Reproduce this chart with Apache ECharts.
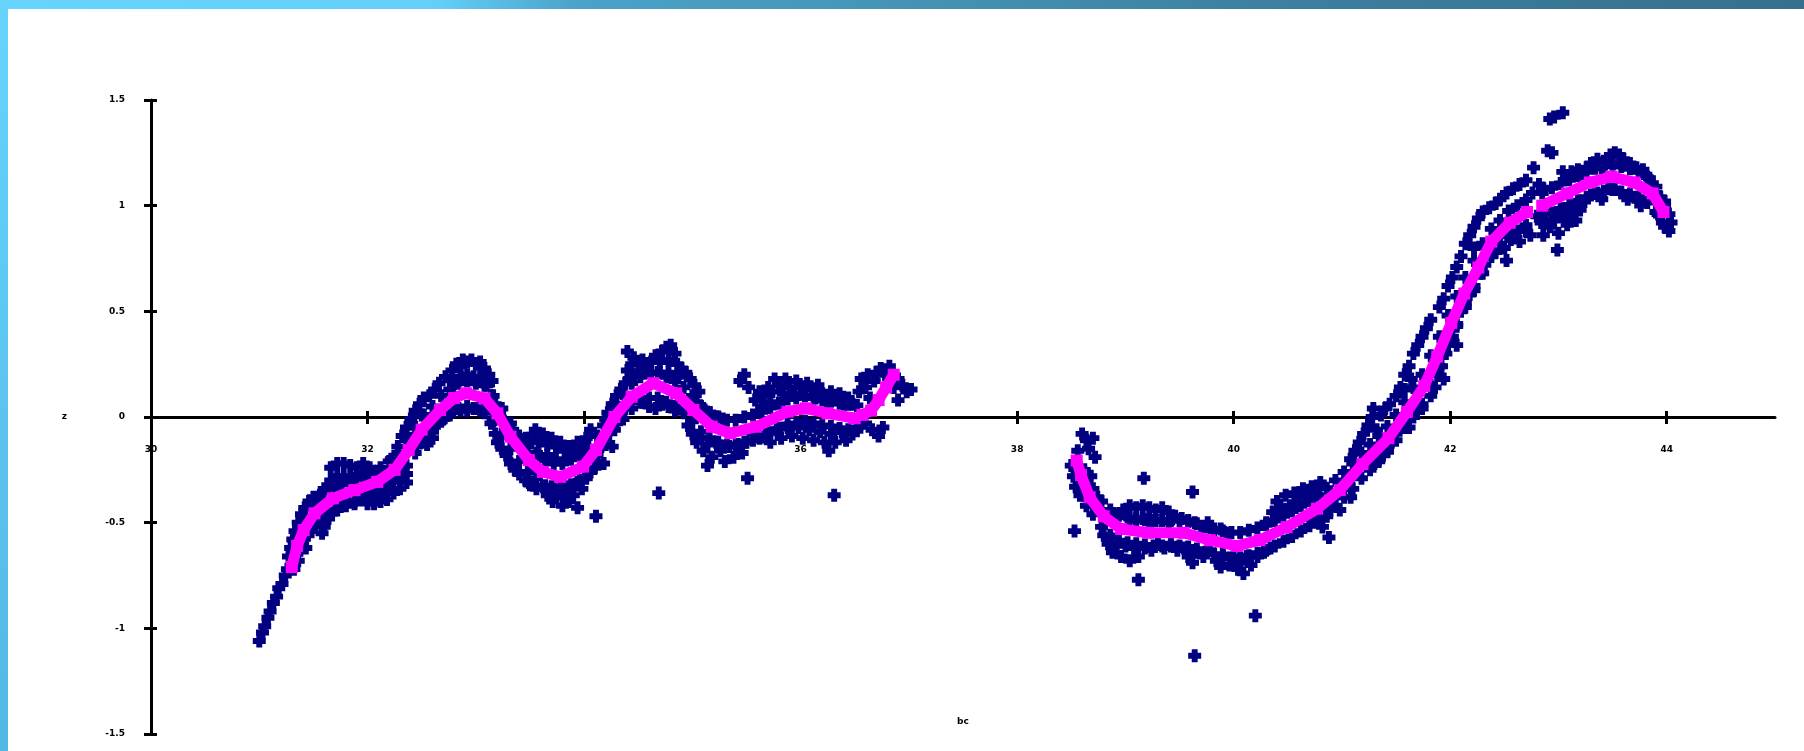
<!DOCTYPE html>
<html>
<head>
<meta charset="utf-8">
<script src="https://cdn.jsdelivr.net/npm/echarts@6/dist/echarts.min.js"></script>
<style>
  html, body { margin: 0; padding: 0; background: #fff; }
  #chart { width: 1804px; height: 751px; }
</style>
</head>
<body>
<div id="chart"></div>
<script>
// axis ticks and titles
const xTicks = [30, 32, 34, 36, 38, 40, 42, 44];
const xName = 'bc';
const yName = 'z';

const observed = [
  // left branch, lower tail
  [31.00,-1.06],[31.03,-1.02],[31.05,-0.99],[31.08,-0.95],[31.10,-0.92],[31.13,-0.88],[31.16,-0.85],[31.18,-0.81],[31.21,-0.79],[31.24,-0.75],[31.26,-0.72],
  [31.27,-0.66],[31.29,-0.62],[31.31,-0.58],[31.33,-0.54],[31.36,-0.50],[31.39,-0.46],[31.42,-0.43],[31.46,-0.40],[31.50,-0.38],
  [31.36,-0.68],[31.38,-0.63],[31.40,-0.59],[31.43,-0.62],[31.45,-0.56],[31.48,-0.52],[31.52,-0.50],[31.56,-0.48],[31.60,-0.52],[31.64,-0.48],[31.58,-0.55],
  [31.55,-0.38],[31.60,-0.34],[31.66,-0.30],[31.66,-0.24],[31.72,-0.22],[31.72,-0.28],[31.78,-0.22],[31.78,-0.28],[31.84,-0.23],[31.84,-0.29],[31.90,-0.24],[31.90,-0.29],[31.96,-0.22],[31.96,-0.28],[32.02,-0.24],[32.02,-0.29],[32.08,-0.26],[31.70,-0.33],[31.76,-0.32],
  [31.70,-0.44],[31.76,-0.41],[31.82,-0.40],[31.88,-0.40],[31.94,-0.39],[32.00,-0.36],[32.00,-0.41],[32.06,-0.36],[32.06,-0.41],[32.12,-0.35],[32.12,-0.40],[32.18,-0.33],[32.18,-0.39],[32.24,-0.30],[32.24,-0.36],[32.30,-0.28],[32.30,-0.34],[32.36,-0.27],[32.36,-0.31],[32.33,-0.23],
  [32.22,-0.20],[32.28,-0.14],[32.32,-0.09],[32.36,-0.05],[32.40,-0.01],[32.44,0.03],[32.48,0.06],[32.52,0.09],[32.57,0.10],[32.62,0.13],[32.66,0.16],[32.40,-0.10],[32.45,-0.14],[32.50,0.01],
  [32.50,-0.12],[32.55,-0.07],[32.55,-0.13],[32.60,-0.04],[32.60,-0.10],[32.65,-0.03],[32.70,-0.01],[32.74,0.01],
  // first hump
  [32.72,0.19],[32.78,0.22],[32.82,0.25],[32.86,0.24],[32.88,0.27],[32.92,0.26],[32.96,0.27],[33.00,0.25],[33.04,0.26],[33.08,0.23],[33.12,0.20],[33.15,0.17],[32.80,0.17],[32.86,0.19],[32.92,0.20],[32.98,0.19],[33.04,0.19],[33.10,0.15],
  [32.80,0.04],[32.86,0.03],[32.92,0.03],[32.98,0.04],[33.04,0.03],[33.08,0.02],
  [33.14,0.10],[33.18,0.06],[33.22,0.02],[33.26,-0.02],[33.30,-0.04],[33.34,-0.06],[33.38,-0.10],[33.42,-0.12],[33.46,-0.10],
  [33.14,-0.03],[33.18,-0.08],[33.20,-0.12],[33.24,-0.15],[33.28,-0.18],[33.32,-0.22],[33.36,-0.25],[33.40,-0.27],[33.46,-0.30],[33.50,-0.32],
  // first dip
  [33.50,-0.10],[33.55,-0.06],[33.58,-0.12],[33.62,-0.08],[33.66,-0.13],[33.70,-0.10],[33.74,-0.14],[33.78,-0.12],[33.82,-0.16],[33.86,-0.14],[33.90,-0.18],[33.94,-0.12],[33.98,-0.16],[34.02,-0.10],[34.06,-0.06],[33.66,-0.18],[33.74,-0.20],[33.58,-0.18],
  [33.56,-0.34],[33.62,-0.33],[33.66,-0.37],[33.70,-0.33],[33.74,-0.36],[33.78,-0.34],[33.82,-0.38],[33.86,-0.33],[33.90,-0.37],[33.94,-0.31],[33.98,-0.34],[34.02,-0.29],[34.06,-0.26],[34.10,-0.24],[33.86,-0.40],[33.80,-0.42],
  [33.49,-0.31],[33.94,-0.43],[34.11,-0.47],[33.71,-0.40],
  [34.12,-0.18],[34.16,-0.14],[34.18,-0.22],[34.20,-0.10],[34.24,-0.06],[34.26,-0.14],[34.30,-0.03],[34.34,0.01],[34.38,0.04],
  [34.18,-0.04],[34.22,0.02],[34.26,0.06],[34.30,0.10],[34.34,0.13],[34.38,0.16],[34.42,0.18],
  // second hump
  [34.40,0.22],[34.44,0.25],[34.40,0.31],[34.46,0.28],[34.50,0.25],[34.54,0.27],[34.58,0.24],[34.62,0.26],[34.66,0.29],[34.70,0.26],[34.72,0.31],[34.76,0.33],[34.80,0.34],[34.84,0.30],[34.78,0.27],[34.86,0.25],[34.90,0.23],[34.94,0.21],[34.98,0.18],[35.02,0.15],[35.06,0.12],[34.46,0.20],[34.54,0.21],[34.62,0.21],[34.70,0.21],[34.78,0.21],[34.86,0.19],
  [34.54,0.07],[34.60,0.05],[34.66,0.04],[34.72,0.06],[34.78,0.05],[34.84,0.03],
  [35.04,0.07],[35.10,0.04],[35.16,0.02],[35.22,0.00],[35.28,-0.01],
  [34.96,-0.04],[35.00,-0.08],[35.04,-0.12],[35.08,-0.10],[35.10,-0.16],[35.14,-0.13],[35.18,-0.19],[35.22,-0.12],[35.26,-0.16],[35.30,-0.21],[35.34,-0.14],[35.38,-0.19],[35.42,-0.13],[35.46,-0.17],[35.50,-0.12],[35.14,-0.23],
  [34.69,-0.36],[35.51,-0.29],
  // flat stretch
  [35.44,0.17],[35.48,0.20],[35.52,0.14],[35.58,0.08],[35.62,0.12],[35.66,0.10],[35.70,0.14],[35.74,0.12],[35.76,0.18],[35.80,0.15],[35.84,0.11],[35.86,0.18],[35.90,0.14],[35.94,0.11],[35.96,0.17],[36.00,0.14],[36.04,0.10],[36.06,0.16],[36.10,0.13],[36.14,0.09],[36.16,0.15],[36.20,0.11],[36.24,0.07],[36.28,0.12],[36.32,0.08],[36.36,0.11],[36.40,0.06],[36.44,0.09],[36.48,0.06],[35.64,0.05],[35.72,0.07],
  [35.56,-0.08],[35.62,-0.10],[35.68,-0.08],[35.72,-0.12],[35.78,-0.06],[35.82,-0.10],[35.88,-0.05],[35.92,-0.09],[35.98,-0.05],[36.02,-0.10],[36.08,-0.06],[36.12,-0.11],[36.18,-0.07],[36.22,-0.12],[36.28,-0.08],[36.32,-0.12],[36.38,-0.07],[36.42,-0.11],[36.48,-0.08],[36.52,-0.05],[36.26,-0.16],
  [36.31,-0.37],
  [36.54,0.12],[36.56,0.18],[36.60,0.14],[36.62,0.20],[36.64,0.09],[36.68,0.17],[36.70,0.21],[36.74,0.23],[36.78,0.20],[36.82,0.24],[36.86,0.14],[36.90,0.18],[36.94,0.15],[36.98,0.12],[37.02,0.13],[36.90,0.08],
  [36.60,-0.03],[36.66,-0.06],[36.72,-0.09],[36.76,-0.05],
  // right branch, start
  [38.60,-0.08],[38.64,-0.11],[38.66,-0.15],[38.70,-0.10],[38.72,-0.19],[38.50,-0.23],[38.52,-0.28],[38.54,-0.33],[38.58,-0.37],[38.60,-0.30],[38.62,-0.26],[38.64,-0.33],[38.68,-0.28],[38.70,-0.42],[38.74,-0.38],[38.64,-0.42],
  [38.53,-0.54],[39.17,-0.29],[39.62,-0.355],[39.12,-0.77],[40.09,-0.74],[40.20,-0.94],[39.64,-1.13],
  // trough
  [38.92,-0.47],[38.98,-0.44],[39.04,-0.42],[39.04,-0.48],[39.10,-0.43],[39.10,-0.49],[39.16,-0.42],[39.16,-0.48],[39.22,-0.43],[39.22,-0.49],[39.28,-0.44],[39.28,-0.49],[39.34,-0.43],[39.34,-0.49],[39.40,-0.45],[39.40,-0.50],[39.46,-0.47],[39.52,-0.48],[39.58,-0.49],[39.64,-0.50],[39.70,-0.52],[39.76,-0.50],[39.82,-0.54],[39.88,-0.53],[39.94,-0.55],
  [38.80,-0.56],[38.84,-0.60],[38.88,-0.64],[38.92,-0.60],[38.96,-0.66],[39.00,-0.61],[39.04,-0.68],[39.08,-0.62],[39.12,-0.66],[39.18,-0.62],[39.24,-0.63],[39.30,-0.60],[39.36,-0.62],[39.42,-0.60],[39.48,-0.63],[39.54,-0.62],[39.58,-0.66],[39.62,-0.69],[39.66,-0.64],[39.72,-0.66],[39.78,-0.63],[39.84,-0.68],[39.90,-0.65],[39.96,-0.70],[40.00,-0.66],[40.06,-0.69],[40.12,-0.66],[40.16,-0.70],[40.22,-0.66],[40.28,-0.64],[40.34,-0.62],[39.88,-0.71],[40.04,-0.72],
  // climb
  [40.30,-0.50],[40.36,-0.45],[40.40,-0.40],[40.44,-0.44],[40.48,-0.37],[40.52,-0.42],[40.56,-0.36],[40.60,-0.40],[40.64,-0.34],[40.68,-0.38],[40.72,-0.33],[40.76,-0.36],[40.80,-0.31],
  [40.70,-0.48],[40.76,-0.46],[40.80,-0.42],[40.82,-0.52],[40.86,-0.47],[40.88,-0.57],[40.90,-0.42],[40.94,-0.38],[40.98,-0.44],[41.02,-0.34],[41.06,-0.30],[41.08,-0.38],
  [41.08,-0.20],[41.12,-0.16],[41.16,-0.12],[41.20,-0.08],[41.24,-0.04],[41.28,0.00],[41.29,0.04],[41.32,-0.06],[41.36,0.01],[41.40,0.04],[41.44,0.06],
  [41.30,-0.22],[41.34,-0.20],[41.38,-0.18],[41.42,-0.16],[41.46,-0.12],[41.50,-0.08],[41.54,-0.04],[41.58,-0.02],[41.62,-0.05],[41.66,0.02],[41.70,0.05],[41.74,0.04],
  [41.50,0.10],[41.54,0.14],[41.58,0.20],[41.62,0.24],[41.66,0.30],[41.70,0.34],[41.74,0.38],[41.78,0.42],[41.82,0.46],[41.58,0.13],[41.64,0.18],
  [41.82,0.10],[41.86,0.14],[41.88,0.20],[41.92,0.24],[41.96,0.30],[41.98,0.36],[42.02,0.38],[42.06,0.44],[42.10,0.50],[42.14,0.54],[42.18,0.58],[42.22,0.62],[41.94,0.18],[42.06,0.34],
  [41.90,0.52],[41.94,0.56],[41.98,0.62],[42.02,0.66],[42.06,0.71],[42.10,0.76],[42.14,0.82],[42.18,0.86],[42.22,0.90],[42.26,0.94],[42.30,0.97],[42.36,0.99],[42.42,1.01],[42.46,1.03],[42.22,0.80],
  [42.28,0.68],[42.32,0.72],[42.38,0.76],[42.42,0.78],[42.46,0.82],[42.50,0.80],[42.56,0.84],[42.60,0.86],[42.64,0.83],[42.70,0.88],[42.74,0.86],[42.52,0.74],
  [42.52,1.06],[42.58,1.08],[42.64,1.10],[42.70,1.12],[42.76,1.06],[42.82,1.10],[42.86,1.08],
  [42.92,1.41],[43.04,1.44],[42.94,1.25],[42.77,1.18],[42.99,0.79],[42.96,1.42],[42.90,1.26],
  // top of right branch
  [42.80,0.95],[42.84,0.92],[42.88,0.97],[42.92,0.90],[42.96,0.93],[43.00,0.87],[43.04,0.95],[43.08,0.91],[43.12,0.97],[43.16,0.93],[43.20,0.98],[42.86,0.86],
  [43.04,1.16],[43.08,1.14],[43.12,1.16],[43.18,1.17],[43.22,1.15],[43.26,1.18],
  [43.30,1.20],[43.36,1.22],[43.42,1.21],[43.48,1.24],[43.52,1.25],[43.56,1.24],[43.60,1.22],[43.66,1.20],[43.72,1.18],[43.78,1.17],[43.84,1.13],[43.50,1.20],[43.40,1.18],
  [43.24,1.02],[43.30,1.05],[43.36,1.06],[43.40,1.03],[43.46,1.08],[43.52,1.08],[43.58,1.06],[43.64,1.03],[43.70,1.04],[43.76,1.00],
  [43.86,1.10],[43.90,1.06],[43.94,1.04],[43.98,1.00],[44.02,0.96],[44.04,0.92],[44.02,0.88],[43.92,0.96],[43.96,0.92],
];

// observed points hugging the fitted curve (the dense core of the cloud)
const observedCore = [
  [31.32,-0.62],[31.32,-0.72],[31.40,-0.49],[31.40,-0.61],[31.48,-0.42],[31.48,-0.54],[31.56,-0.37],[31.56,-0.49],[31.64,-0.34],[31.64,-0.46],
  [31.72,-0.32],[31.72,-0.44],[31.80,-0.30],[31.80,-0.42],[31.88,-0.29],[31.88,-0.41],[31.96,-0.27],[31.96,-0.39],[32.04,-0.26],[32.04,-0.38],
  [32.12,-0.24],[32.12,-0.36],[32.20,-0.21],[32.20,-0.33],[32.28,-0.17],[32.28,-0.29],[32.36,-0.11],[32.36,-0.23],[32.44,-0.05],[32.44,-0.17],
  [32.52,0.01],[32.52,-0.11],[32.60,0.05],[32.60,-0.07],[32.68,0.10],[32.68,-0.02],[32.76,0.13],[32.76,0.01],[32.84,0.16],[32.84,0.04],
  [32.92,0.17],[32.92,0.05],[33.00,0.16],[33.00,0.04],[33.08,0.15],[33.08,0.03],[33.16,0.10],[33.16,-0.02],[33.24,0.04],[33.24,-0.08],
  [33.32,-0.03],[33.32,-0.15],[33.40,-0.09],[33.40,-0.21],[33.48,-0.14],[33.48,-0.26],[33.56,-0.17],[33.56,-0.29],[33.64,-0.205],[33.64,-0.325],
  [33.72,-0.22],[33.72,-0.34],[33.80,-0.22],[33.80,-0.34],[33.88,-0.20],[33.88,-0.32],[33.96,-0.18],[33.96,-0.30],[34.04,-0.14],[34.04,-0.26],
  [34.12,-0.09],[34.12,-0.21],[34.20,-0.01],[34.20,-0.13],[34.28,0.06],[34.28,-0.06],[34.36,0.11],[34.36,-0.01],[34.44,0.16],[34.44,0.04],
  [34.52,0.19],[34.52,0.07],[34.60,0.21],[34.60,0.09],[34.68,0.21],[34.68,0.09],[34.76,0.19],[34.76,0.07],[34.84,0.17],[34.84,0.05],
  [34.92,0.14],[34.92,0.02],[35.00,0.10],[35.00,-0.02],[35.08,0.05],[35.08,-0.07],[35.16,0.02],[35.16,-0.10],[35.24,0.00],[35.24,-0.12],
  [35.32,-0.015],[35.32,-0.135],[35.40,-0.015],[35.40,-0.135],[35.48,0.00],[35.48,-0.12],[35.56,0.01],[35.56,-0.11],[35.64,0.025],[35.64,-0.095],
  [35.72,0.045],[35.72,-0.075],[35.80,0.065],[35.80,-0.055],[35.88,0.085],[35.88,-0.035],[35.96,0.09],[35.96,-0.03],[36.04,0.10],[36.04,-0.02],
  [36.12,0.09],[36.12,-0.03],[36.20,0.08],[36.20,-0.04],[36.28,0.075],[36.28,-0.045],[36.36,0.065],[36.36,-0.055],[36.44,0.06],[36.44,-0.06],
  [36.52,0.055],[36.52,-0.065],
  [38.56,-0.16],[38.56,-0.28],[38.62,-0.25],[38.62,-0.37],[38.70,-0.34],[38.70,-0.46],[38.78,-0.40],[38.78,-0.52],[38.86,-0.44],[38.86,-0.56],
  [38.94,-0.465],[38.94,-0.585],[39.02,-0.475],[39.02,-0.595],[39.10,-0.48],[39.10,-0.60],[39.18,-0.486],[39.18,-0.606],[39.26,-0.49],[39.26,-0.61],
  [39.34,-0.49],[39.34,-0.61],[39.42,-0.49],[39.42,-0.61],[39.50,-0.49],[39.50,-0.61],[39.58,-0.495],[39.58,-0.615],[39.66,-0.505],[39.66,-0.625],
  [39.74,-0.52],[39.74,-0.64],[39.82,-0.53],[39.82,-0.65],[39.90,-0.54],[39.90,-0.66],[39.98,-0.547],[39.98,-0.667],[40.06,-0.547],[40.06,-0.667],
  [40.14,-0.536],[40.14,-0.656],[40.22,-0.525],[40.22,-0.645],[40.30,-0.51],[40.30,-0.63],[40.38,-0.49],[40.38,-0.61],[40.46,-0.468],[40.46,-0.588],
  [40.54,-0.445],[40.54,-0.565],[40.62,-0.42],[40.62,-0.54],[40.70,-0.395],[40.70,-0.515],[40.78,-0.37],[40.78,-0.49],[40.86,-0.337],[40.86,-0.457],
  [40.94,-0.30],[40.94,-0.42],[41.02,-0.26],[41.02,-0.38],[41.10,-0.22],[41.10,-0.34],[41.18,-0.17],[41.18,-0.29],[41.26,-0.13],[41.26,-0.25],
  [41.34,-0.09],[41.34,-0.21],[41.42,-0.045],[41.42,-0.165],[41.50,0.01],[41.50,-0.11],[41.58,0.07],[41.58,-0.05],[41.66,0.14],[41.66,0.00],
  [41.74,0.20],[41.74,0.06],[41.82,0.29],[41.82,0.15],[41.90,0.38],[41.90,0.24],[41.98,0.48],[41.98,0.34],[42.06,0.57],[42.06,0.43],
  [42.14,0.66],[42.14,0.52],[42.22,0.74],[42.22,0.60],[42.30,0.82],[42.30,0.68],[42.38,0.89],[42.38,0.77],[42.46,0.93],[42.46,0.81],
  [42.54,0.975],[42.54,0.855],[42.62,1.00],[42.62,0.88],[42.70,1.027],[42.70,0.907],[42.85,1.06],[42.85,0.94],[42.94,1.085],[42.94,0.965],
  [43.02,1.105],[43.02,0.985],[43.10,1.123],[43.10,1.003],[43.18,1.143],[43.18,1.023],[43.26,1.16],[43.26,1.04],[43.34,1.177],[43.34,1.057],
  [43.42,1.188],[43.42,1.068],[43.50,1.196],[43.50,1.076],[43.58,1.185],[43.58,1.065],[43.66,1.175],[43.66,1.055],[43.74,1.16],[43.74,1.04],
  [43.82,1.135],[43.82,1.015],[43.90,1.09],[43.90,0.97],[43.98,1.02],[43.98,0.90],
];

// fitted curve (magenta), in four pieces
const fitPieceA = [
  [31.30,-0.71],[31.35,-0.61],[31.41,-0.535],[31.51,-0.456],[31.68,-0.385],[31.88,-0.346],[32.09,-0.307],[32.25,-0.25],
  [32.38,-0.156],[32.50,-0.06],[32.67,0.033],[32.80,0.09],[32.91,0.112],[33.08,0.089],[33.20,0.017],[33.32,-0.093],
  [33.49,-0.204],[33.62,-0.26],[33.78,-0.283],[33.99,-0.235],[34.11,-0.156],[34.28,0.0],[34.44,0.096],[34.64,0.16],
  [34.85,0.112],[35.01,0.033],[35.18,-0.046],[35.35,-0.077],[35.59,-0.046],[35.88,0.025],[36.05,0.041],[36.25,0.017],[36.50,-0.006],
];
const fitPieceB = [[36.57,0.01],[36.65,0.03],[36.72,0.08],[36.79,0.14],[36.86,0.20]];
const fitPieceC = [
  [38.55,-0.206],[38.59,-0.275],[38.67,-0.38],[38.80,-0.47],[38.96,-0.53],[39.21,-0.548],[39.54,-0.548],[39.78,-0.583],
  [40.03,-0.61],[40.24,-0.583],[40.49,-0.521],[40.77,-0.434],[40.98,-0.346],[41.19,-0.223],[41.43,-0.10],[41.60,0.024],
  [41.76,0.147],[41.88,0.286],[42.01,0.445],[42.13,0.584],[42.26,0.707],[42.38,0.83],[42.55,0.919],[42.71,0.97],
];
const fitPieceD = [[42.85,1.00],[43.08,1.058],[43.29,1.11],[43.49,1.137],[43.70,1.11],[43.87,1.058],[43.97,0.97]];

const plusSymbol = 'path://M3,0H8V3H11V8H8V11H3V8H0V3H3Z';
const black = '#000';
const labelFont = { color: black, fontSize: 9, fontWeight: 'bold', fontFamily: 'DejaVu Sans' };

const chart = echarts.init(document.getElementById('chart'));

const cloudSeries = [observed, observedCore].map((points) => ({
  type: 'scatter',
  data: points,
  symbol: plusSymbol,
  symbolSize: 13,
  itemStyle: { color: '#000080', opacity: 1 },
  z: 2,
  silent: true,
}));

const fitSeries = [fitPieceA, fitPieceB, fitPieceC, fitPieceD].map((piece) => ({
  type: 'line',
  data: piece,
  symbol: 'rect',
  symbolSize: 12,
  showSymbol: true,
  lineStyle: { color: '#ff00ff', width: 11, cap: 'butt' },
  itemStyle: { color: '#ff00ff', opacity: 1 },
  z: 3,
  silent: true,
}));

chart.setOption({
  animation: false,
  backgroundColor: '#fff',
  grid: { left: 151, right: 29, top: 100, bottom: 17, outerBoundsMode: 'none' },
  graphic: [
    {
      type: 'rect',
      shape: { x: 0, y: 0, width: 1804, height: 9 },
      style: {
        fill: new echarts.graphic.LinearGradient(0, 0, 1, 0, [
          { offset: 0, color: '#66d4fb' },
          { offset: 0.24, color: '#64d0f8' },
          { offset: 0.32, color: '#4ba2ca' },
          { offset: 0.5, color: '#4594b5' },
          { offset: 0.7, color: '#3d80a0' },
          { offset: 1, color: '#36708d' },
        ]),
      },
      z: 10,
    },
    {
      type: 'rect',
      shape: { x: 0, y: 0, width: 8, height: 751 },
      style: {
        fill: new echarts.graphic.LinearGradient(0, 0, 0, 1, [
          { offset: 0, color: '#66d4fb' },
          { offset: 1, color: '#52b8e4' },
        ]),
      },
      z: 10,
    },
  ],
  xAxis: [
    {
      type: 'value',
      min: 30,
      max: 45,
      position: 'bottom',
      axisLine: { onZero: true, lineStyle: { color: black, width: 3 } },
      axisTick: { show: true, inside: false, length: 7, customValues: xTicks, lineStyle: { color: black, width: 3 } },
      // labels and name sit from the grid's bottom edge, not from the zero line
      axisLabel: { customValues: xTicks, margin: -289, ...labelFont },
      splitLine: { show: false },
      name: xName,
      nameLocation: 'middle',
      nameGap: -17,
      nameTextStyle: labelFont,
    },
    {
      type: 'value',
      min: 30,
      max: 45,
      position: 'bottom',
      axisLine: { onZero: true, show: false },
      axisTick: { show: true, inside: true, length: 6, customValues: xTicks, lineStyle: { color: black, width: 3 } },
      axisLabel: { show: false },
      splitLine: { show: false },
    },
  ],
  yAxis: [
    {
      type: 'value',
      min: -1.5,
      max: 1.5,
      interval: 0.5,
      position: 'left',
      axisLine: { show: true, lineStyle: { color: black, width: 3 } },
      axisTick: { show: true, inside: false, length: 7, lineStyle: { color: black, width: 3 } },
      axisLabel: { margin: 26, ...labelFont },
      splitLine: { show: false },
      name: yName,
      nameLocation: 'middle',
      nameRotate: 0,
      nameGap: 84,
      nameTextStyle: labelFont,
    },
    {
      type: 'value',
      min: -1.5,
      max: 1.5,
      interval: 0.5,
      position: 'left',
      axisLine: { show: false },
      axisTick: { show: true, inside: true, length: 6, lineStyle: { color: black, width: 3 } },
      axisLabel: { show: false },
      splitLine: { show: false },
    },
  ],
  series: [...cloudSeries, ...fitSeries],
});
</script>
</body>
</html>
